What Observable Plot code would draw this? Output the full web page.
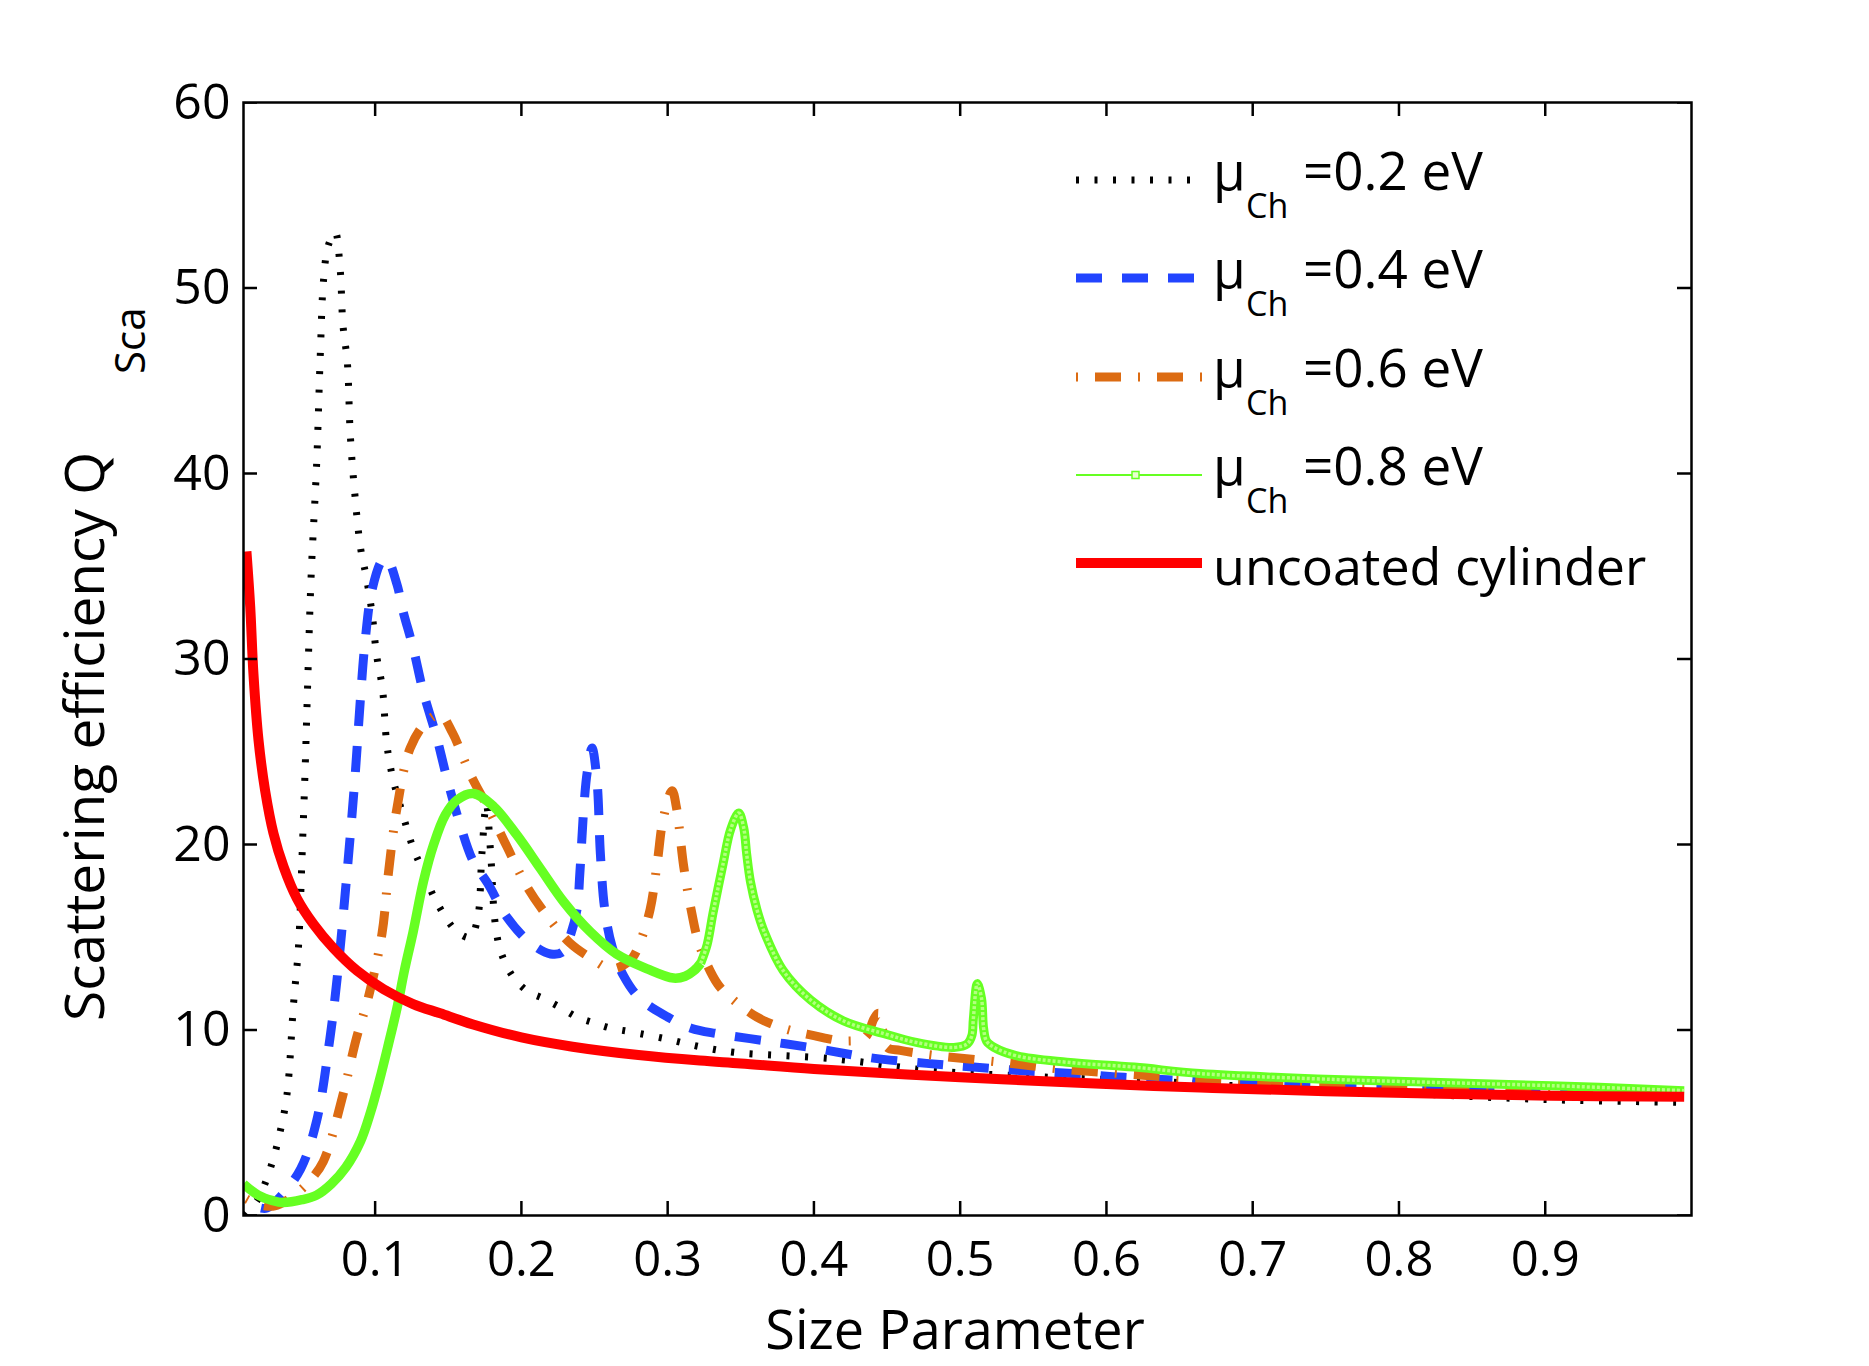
<!DOCTYPE html>
<html>
<head>
<meta charset="utf-8">
<script src="https://cdn.jsdelivr.net/npm/d3@7"></script>
<script src="https://cdn.jsdelivr.net/npm/@observablehq/plot@0.6"></script>
<style>
  html, body { margin: 0; padding: 0; background: #fff; overflow: hidden; }
  #chart svg { display: block; }
</style>
</head>
<body>
<div id="chart"></div>
<script>
// ---- tick values ----
const xTicks = [0.1, 0.2, 0.3, 0.4, 0.5, 0.6, 0.7, 0.8, 0.9];
const yTicks = [0, 10, 20, 30, 40, 50, 60];

// ---- series: [size parameter, Q_sca] ----
const mu02 = [
  [0.011,0.0],[0.02,0.9],[0.029,2.7],[0.035,4.5],[0.0397,6.5],[0.0442,11.4],[0.0476,14.5],
  [0.050,19.3],[0.0522,24.2],[0.0534,27.4],[0.0562,34.4],[0.060,40.5],[0.0625,46.4],[0.0647,50.4],
  [0.068,52.3],[0.0727,53.0],[0.076,51.1],[0.078,48.0],[0.081,46.0],[0.083,42.1],
  [0.086,39.0],[0.090,36.0],[0.094,34.4],[0.098,32.4],[0.101,30.2],[0.105,28.4],
  [0.108,25.4],[0.112,23.6],[0.119,21.6],[0.126,19.8],[0.132,18.7],[0.142,16.9],
  [0.156,15.3],[0.165,15.0],[0.170,16.0],[0.173,19.5],[0.176,22.2],[0.179,19.5],
  [0.182,15.8],[0.186,14.2],[0.194,12.9],[0.204,12.1],[0.215,11.7],[0.227,11.2],
  [0.238,10.7],[0.249,10.4],[0.261,10.1],[0.275,9.9],[0.30,9.5],[0.322,9.1],
  [0.345,8.8],[0.413,8.45],[0.482,7.8],[0.562,7.45],[0.623,7.27],[0.70,6.95],
  [0.80,6.6],[0.904,6.24],[0.995,6.1]
];
const mu04 = [
  [0.022,0.4],[0.026,0.4],[0.035,1.0],[0.049,2.5],[0.060,5.1],[0.069,9.5],[0.0739,12.7],
  [0.0807,18.4],[0.0864,23.8],[0.0898,27.7],[0.0932,31.0],[0.0978,33.7],
  [0.1047,35.3],[0.108,35.4],[0.115,34.0],[0.119,32.6],[0.126,30.6],[0.133,28.2],
  [0.142,25.8],[0.149,23.6],[0.158,21.1],[0.167,19.1],[0.177,17.9],[0.19,16.1],
  [0.206,14.7],[0.22,14.1],[0.228,14.2],[0.233,15.0],[0.238,16.5],[0.240,18.5],
  [0.2426,21.9],[0.245,23.9],[0.2483,25.2],[0.2517,23.4],[0.254,19.5],[0.257,16.5],
  [0.262,14.5],[0.27,12.9],[0.281,11.7],[0.30,10.7],[0.316,10.1],[0.334,9.8],
  [0.368,9.4],[0.402,9.0],[0.439,8.5],[0.477,8.2],[0.509,8.0],[0.543,7.8],
  [0.577,7.65],[0.612,7.45],[0.70,7.1],[0.80,6.9],[0.90,6.8],[0.995,6.7]
];
const mu06 = [
  [0.012,0.9],[0.02,0.6],[0.03,0.5],[0.037,0.7],[0.048,1.3],[0.0556,1.9],[0.0645,2.9],
  [0.078,6.5],[0.087,9.5],[0.0955,11.8],[0.1047,15.2],[0.109,18.4],[0.115,22.0],
  [0.124,25.2],[0.135,26.6],[0.1445,27.0],[0.153,26.0],[0.165,23.8],[0.177,22.0],
  [0.19,19.9],[0.204,17.7],[0.218,16.1],[0.233,14.7],[0.247,13.9],[0.261,13.3],
  [0.27,13.5],[0.276,13.9],[0.281,14.7],[0.288,16.5],[0.293,19.1],[0.297,21.4],
  [0.303,22.9],[0.306,22.0],[0.311,18.8],[0.316,16.5],[0.322,14.5],[0.334,12.5],
  [0.343,11.75],[0.361,10.7],[0.379,10.1],[0.40,9.7],[0.422,9.4],[0.435,9.6],
  [0.441,10.6],[0.444,10.9],[0.447,10.0],[0.45,9.07],[0.459,8.9],[0.486,8.6],
  [0.528,8.26],[0.568,7.9],[0.61,7.65],[0.646,7.45],[0.70,7.25],[0.80,7.0],
  [0.90,6.8],[0.995,6.7]
];
const mu08a = [
  [0.01,1.7],[0.02,1.1],[0.03,0.8],[0.037,0.7],[0.05,0.85],[0.06,1.1],[0.07,1.7],
  [0.08,2.6],[0.09,4.0],[0.097,5.6],[0.103,7.3],[0.109,9.2],[0.115,11.2],[0.12,13.2],
  [0.126,15.3],[0.133,18.0],[0.14,20.0],[0.148,21.6],[0.156,22.4],[0.167,22.75],
  [0.181,22.05],[0.197,20.5],[0.213,18.7],[0.229,16.9],[0.247,15.3],[0.265,14.1],
  [0.286,13.3],[0.304,12.8],[0.312,12.9],[0.318,13.2],[0.3226,13.6]
];
const mu08b = [
  [0.3226,13.6],[0.327,14.6],[0.331,16.3],[0.338,19.0],[0.343,20.8],[0.3486,21.7],
  [0.352,20.9],[0.354,19.5],[0.3566,18.0],[0.361,16.5],[0.366,15.3],[0.379,13.2],
  [0.398,11.6],[0.42,10.5],[0.448,9.8],[0.47,9.33],[0.4957,9.06],[0.505,9.26],
  [0.508,9.7],[0.509,10.6],[0.5117,12.5],[0.5146,11.7],[0.516,10.1],[0.518,9.4],
  [0.523,9.07],[0.539,8.6],[0.573,8.26],[0.619,8.0],[0.664,7.65],[0.75,7.35],
  [0.904,7.0],[0.995,6.73]
];
const uncoated = [
  [0.012,35.8],[0.0146,32.8],[0.0168,29.2],[0.0203,25.6],[0.0248,22.9],
  [0.0305,20.6],[0.0374,18.8],[0.0465,17.1],[0.0579,15.7],[0.0716,14.4],[0.0876,13.2],
  [0.1058,12.2],[0.126,11.4],[0.1445,10.9],[0.167,10.3],[0.2,9.6],[0.235,9.1],
  [0.28,8.65],[0.322,8.35],[0.35,8.2],[0.4,7.9],[0.5,7.45],[0.596,7.1],[0.664,6.9],
  [0.75,6.7],[0.904,6.46],[0.995,6.4]
];

const legendLabels = ["=0.2 eV", "=0.4 eV", "=0.6 eV", "=0.8 eV", "uncoated cylinder"];

// ---- styles ----
const C = {black: "#000000", blue: "#2244ff", orange: "#dc6b12", green: "#66ff22", red: "#ff0000"};
const S = {
  black: {stroke: C.black, strokeWidth: 7, strokeDasharray: "3 15.5"},
  blue: {stroke: C.blue, strokeWidth: 9, strokeDasharray: "26 20"},
  orange: {stroke: C.orange, strokeWidth: 9, strokeDasharray: "2 17 26 17"},
  green: {stroke: C.green, strokeWidth: 9.5},
  red: {stroke: C.red, strokeWidth: 10}
};
const FONT = "'Open Sans', 'Noto Sans', sans-serif";
const W = 1869, H = 1366, ML = 243, MR = 178, MT = 102, MB = 151;
const IW = W - ML - MR, IH = H - MT - MB, TL = 14;

const X = d => d[0], Y = d => d[1];
const ln = (data, st, extra = {}) =>
  Plot.line(data, {x: X, y: Y, curve: "catmull-rom", strokeLinecap: "butt", strokeLinejoin: "round", ...st, ...extra});

const chart = Plot.plot({
  width: W, height: H,
  marginLeft: ML, marginRight: MR, marginTop: MT, marginBottom: MB,
  x: {domain: [0.01, 1]},
  y: {domain: [0, 60]},
  clip: true,
  style: {fontFamily: FONT, background: "#fff", color: "#000"},
  marks: [
    ln(mu02, S.black),
    ln(mu04, S.blue),
    ln(mu06, S.orange),
    ln(mu08a, S.green),
    ln(mu08b, {stroke: C.green, strokeWidth: 9}),
    ln(mu08b, {stroke: "#b4ff80", strokeWidth: 3.5, strokeDasharray: "3 2"}),
    ln(uncoated, S.red),
    Plot.frame({stroke: "#000", strokeWidth: 2.5}),
    Plot.ruleX(xTicks, {insetTop: IH - TL, stroke: "#000", strokeWidth: 2.5}),
    Plot.ruleX(xTicks, {insetBottom: IH - TL, stroke: "#000", strokeWidth: 2.5}),
    Plot.ruleY(yTicks, {insetLeft: IW - TL, stroke: "#000", strokeWidth: 2.5}),
    Plot.ruleY(yTicks, {insetRight: IW - TL, stroke: "#000", strokeWidth: 2.5}),
    Plot.axisX(xTicks, {tickSize: 0, tickPadding: 26, fontSize: 49, label: null, tickFormat: d => String(d)}),
    Plot.axisY(yTicks, {tickSize: 0, tickPadding: 13, fontSize: 50, label: null})
  ]
});
document.getElementById("chart").appendChild(chart);

// ---- axis titles & legend (real text) ----
const svg = d3.select(chart);
svg.append("text")
  .attr("x", 955).attr("y", 1349)
  .attr("text-anchor", "middle")
  .attr("font-family", FONT).attr("font-size", 54).attr("fill", "#000")
  .text("Size Parameter");

const yl = svg.append("g").attr("font-family", FONT).attr("fill", "#000").attr("text-anchor", "start");
yl.append("text")
  .attr("transform", "translate(104,1021) rotate(-90)")
  .attr("text-anchor", "start").attr("font-size", 55)
  .text("Scattering efficiency Q");
yl.append("text")
  .attr("transform", "translate(145,374) rotate(-90)")
  .attr("text-anchor", "start").attr("font-size", 42)
  .text("Sca");

const lg = svg.append("g").attr("font-family", FONT).attr("fill", "#000").attr("text-anchor", "start");
const rowsY = [180, 278, 377, 475, 563];
const rowStyles = [S.black, S.blue, S.orange, {stroke: C.green, strokeWidth: 2}, S.red];
rowStyles.forEach((st, i) => {
  const l = lg.append("line")
    .attr("x1", 1076).attr("x2", 1202).attr("y1", rowsY[i]).attr("y2", rowsY[i])
    .attr("stroke", st.stroke).attr("stroke-width", st.strokeWidth)
    .attr("stroke-linecap", "butt");
  if (st.strokeDasharray) l.attr("stroke-dasharray", st.strokeDasharray);
  if (i === 3) {
    lg.append("rect").attr("x", 1132).attr("y", rowsY[i] - 3.5).attr("width", 7).attr("height", 7)
      .attr("fill", "#eaffd0").attr("stroke", C.green).attr("stroke-width", 1.5);
  }
  if (i < 4) {
    const t = lg.append("text").attr("y", rowsY[i] + 10).attr("font-size", 53).attr("text-anchor", "start");
    t.append("tspan").attr("x", 1213).text("\u03BC");
    t.append("tspan").attr("x", 1246).attr("dy", 28).attr("font-size", 34).text("Ch");
    t.append("tspan").attr("x", 1303).attr("dy", -28).text(legendLabels[i]);
  } else {
    lg.append("text").attr("x", 1213).attr("y", rowsY[i] + 22).attr("font-size", 52)
      .attr("text-anchor", "start").text(legendLabels[i]);
  }
});
</script>
</body>
</html>
